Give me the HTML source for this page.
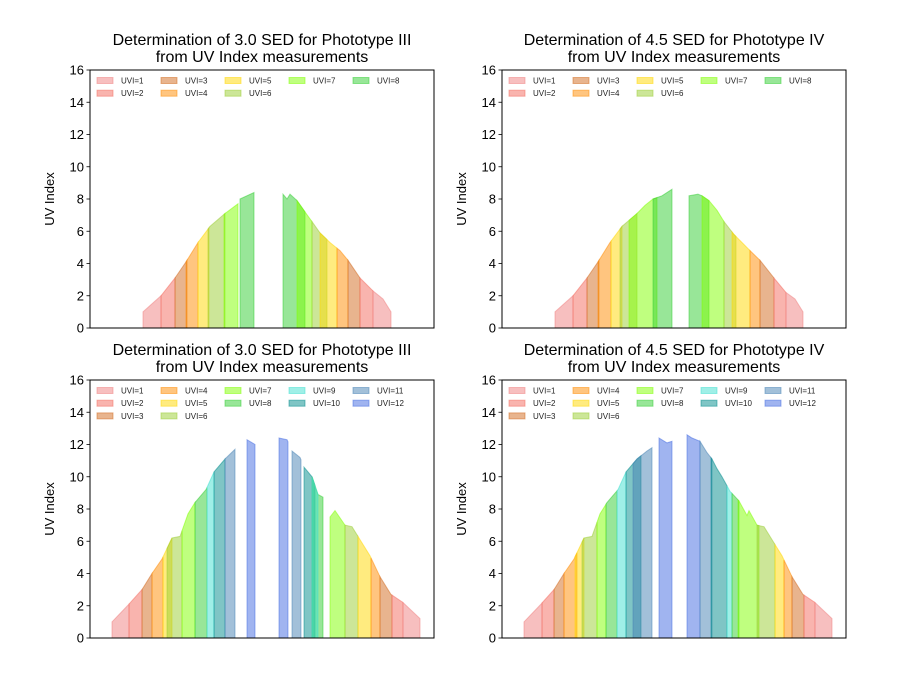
<!DOCTYPE html>
<html><head><meta charset="utf-8"><style>
body{margin:0;background:#fff}
svg{display:block;font-family:"Liberation Sans","DejaVu Sans",sans-serif}
</style></head><body>
<svg id="fig" width="900" height="700"></svg>
<script>
const uviColors=['#f08080','#f46a5e','#d2691e','#ff8c00','#ffd700','#9acd32','#7fff00','#32cd32','#40e0d0','#008b8b','#4682b4','#4169e1'];
const yTicks=[0,2,4,6,8,10,12,14,16];
const titles=[["Determination of 3.0 SED for Phototype III","from UV Index measurements"],["Determination of 4.5 SED for Phototype IV","from UV Index measurements"],["Determination of 3.0 SED for Phototype III","from UV Index measurements"],["Determination of 4.5 SED for Phototype IV","from UV Index measurements"]];
const profile1=[[53,1.0],[71,2.0],[85,3.1],[96,4.1],[108,5.3],[120,6.3],[135,7.1],[148,7.7],[150,8.0],[164,8.4],[193,8.3],[197,8.0],[200,8.3],[207,7.9],[215,7.2],[222,6.6],[230,5.9],[240,5.3],[250,4.8],[258,4.2],[270,3.1],[283,2.3],[293,1.8],[301,1.0]];
const segs1=[[53,71,1],[71,85,2],[85,97,3],[96,108,4],[108,119,5],[118,135,6],[134,148,7],[150,164,8],[193,215,8],[207,222,7],[222,237,6],[230,247,5],[247,258,4],[258,270,3],[270,283,2],[283,301,1]];
const profile2=[[53,1.0],[71,2.0],[85,3.1],[96,4.1],[108,5.3],[120,6.3],[135,7.1],[143,7.6],[151,8.0],[160,8.2],[170,8.6],[187,8.2],[196,8.3],[200,8.2],[207,7.9],[215,7.3],[222,6.6],[232,5.8],[240,5.3],[248,4.8],[258,4.2],[272,3.1],[284,2.2],[293,1.8],[301,1.0]];
const segs2=[[53,71,1],[71,85,2],[85,97,3],[96,109,4],[109,120,5],[118,135,6],[127,155,7],[151,170,8],[187,207,8],[200,222,7],[222,234,6],[230,248,5],[248,258,4],[258,272,3],[272,284,2],[284,301,1]];
const profile3=[[22,1.0],[39,2.1],[52,3.0],[62,4.0],[72,4.9],[82,6.2],[90,6.3],[98,7.7],[105,8.4],[116,9.2],[124,10.3],[135,11.1],[145,11.7],[157,12.3],[165,12.0],[189,12.4],[197,12.3],[202,11.6],[210,11.2],[214,10.6],[222,10.0],[228,8.9],[234,8.7],[240,7.5],[245,7.9],[255,7.0],[262,6.9],[270,6.1],[280,5.1],[290,3.8],[301,2.7],[313,2.2],[330,1.2]];
const segs3=[[22,39,1],[39,52,2],[52,62,3],[62,73,4],[73,82,5],[77,92,6],[92,105,7],[105,117,8],[117,124,9],[124,135,10],[135,145,11],[157,165,12],[189,198,12],[202,211,11],[214,225,10],[222,233,8],[222,228,9],[240,255,7],[255,268,6],[268,281,5],[281,290,4],[290,302,3],[302,313,2],[313,330,1]];
const profile4=[[22,1.0],[39,2.1],[52,3.0],[62,4.0],[72,4.9],[82,6.2],[90,6.3],[98,7.7],[105,8.4],[116,9.2],[124,10.3],[135,11.1],[145,11.6],[150,11.8],[157,12.4],[165,12.1],[170,12.2],[185,12.6],[190,12.4],[198,12.2],[205,11.5],[210,11.1],[215,10.5],[220,10.0],[228,9.1],[237,8.5],[245,7.6],[247,7.9],[255,7.0],[262,6.9],[270,6.1],[280,5.1],[290,3.8],[301,2.7],[313,2.2],[330,1.2]];
const segs4=[[22,40,1],[40,52,2],[52,62,3],[62,75,4],[73,82,5],[80,95,6],[95,104,7],[104,115,8],[115,124,9],[124,139,10],[131,150,11],[157,170,12],[185,198,12],[198,210,11],[209,225,10],[225,230,9],[230,237,8],[236,257,7],[255,273,6],[273,282,5],[282,290,4],[290,302,3],[302,313,2],[313,330,1]];
const panels=[
 {x:90,y:70,profile:profile1,segs:segs1,n:8},
 {x:502,y:70,profile:profile2,segs:segs2,n:8},
 {x:90,y:380,profile:profile3,segs:segs3,n:12},
 {x:502,y:380,profile:profile4,segs:segs4,n:12}];
const NS='http://www.w3.org/2000/svg';
const svg=document.getElementById('fig');
const W=344,H=258,XMAX=344,YMAX=16;
function mk(tag,attrs,parent){const e=document.createElementNS(NS,tag);for(const k in attrs)e.setAttribute(k,attrs[k]);parent.appendChild(e);return e;}
function interp(p,x){for(let i=0;i<p.length-1;i++){if(x>=p[i][0]&&x<=p[i+1][0]){const t=(x-p[i][0])/((p[i+1][0]-p[i][0])||1);return p[i][1]+t*(p[i+1][1]-p[i][1]);}}return x<p[0][0]?p[0][1]:p[p.length-1][1];}
panels.forEach((P,pi)=>{
 const g=mk('g',{},svg);
 
 
 const sx=v=>P.x+v/XMAX*W, sy=v=>P.y+H-v/YMAX*H;
 P.segs.forEach(s=>{
  const pts=[[s[0],interp(P.profile,s[0])]];
  P.profile.forEach(q=>{if(q[0]>s[0]&&q[0]<s[1])pts.push(q);});
  pts.push([s[1],interp(P.profile,s[1])]);
  let d='M'+sx(s[0])+','+sy(0);
  pts.forEach(q=>{d+=' L'+sx(q[0]).toFixed(1)+','+sy(q[1]).toFixed(1);});
  d+=' L'+sx(s[1])+','+sy(0)+'Z';
  const c=uviColors[s[2]-1];
  const path=mk('path',{d:d,fill:c,'fill-opacity':0.5,stroke:c,'stroke-opacity':0.5,'stroke-width':1},g);
  
  
 });
 const fr=mk('rect',{x:P.x,y:P.y,width:W,height:H,fill:'none',stroke:'#000','stroke-width':1},g);
 
 
 yTicks.forEach(t=>{
  mk('line',{x1:P.x-3.5,x2:P.x,y1:sy(t),y2:sy(t),stroke:'#000','stroke-width':0.8},g);
  const tx=mk('text',{x:P.x-6,y:sy(t)+4.5,'text-anchor':'end','font-size':13},g);
  
  
  tx.textContent=t;
 });
 const yl=mk('text',{transform:'translate('+(P.x-36)+','+(P.y+H/2)+') rotate(-90)','text-anchor':'middle','font-size':13},g);
 
 
 yl.textContent='UV Index';
 titles[pi].forEach((line,li)=>{
  const tt=mk('text',{x:P.x+W/2,y:P.y-25+li*17,'text-anchor':'middle','font-size':16},g);
  
  
  tt.textContent=line;
 });
 const rows=P.n>8?3:2;
 const colSizes=P.n>8?[3,3,2,2,2]:[2,2,2,1,1];
 let k=0;
 colSizes.forEach((cs,ci)=>{for(let r=0;r<cs;r++){
  const u=++k;const lx=P.x+7+ci*64, ly=P.y+11+r*12.7;
  const lg=mk('g',{},g);
  
  
  mk('rect',{x:lx,y:ly-3.5,width:16,height:6,fill:uviColors[u-1],'fill-opacity':0.5,stroke:uviColors[u-1],'stroke-opacity':0.5},lg);
  const lt=mk('text',{x:lx+24,y:ly+2.5,'font-size':8,fill:'#222'},lg);
  lt.textContent='UVI='+u;
 }});
});
</script>
</body></html>
